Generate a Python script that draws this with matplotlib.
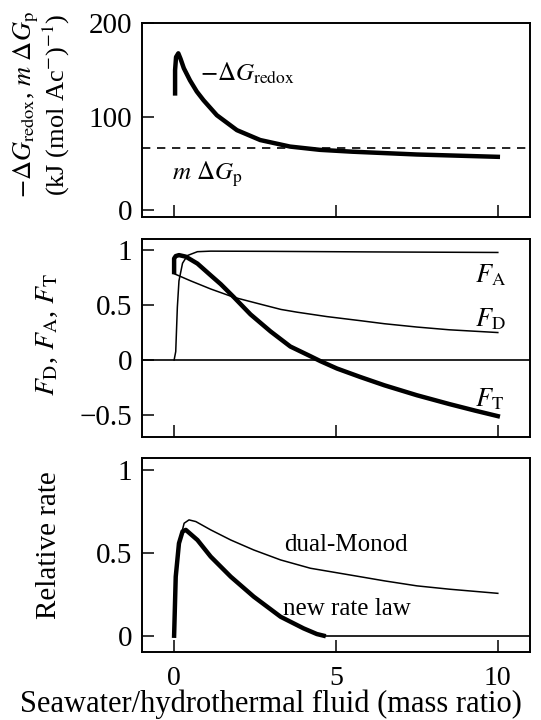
import matplotlib
matplotlib.use("Agg")
import matplotlib.pyplot as plt

plt.rcParams["font.family"] = ["Liberation Serif", "DejaVu Serif"]
plt.rcParams["mathtext.fontset"] = "stix"
plt.rcParams["font.size"] = 21

# --- data ---
# panel 1: -dG_redox (kJ per mol acetate) and the m dG_p level
redox_x = [0.03, 0.03, 0.06, 0.13, 0.2, 0.3, 0.49, 0.7, 0.91, 1.32, 1.94, 2.66, 3.58, 4.5, 5.5, 6.5, 7.5, 8.5, 10]
redox_y = [125, 150, 164, 168, 162, 152, 139, 127, 117.6, 101.6, 85.6, 75, 68, 64.5, 62.5, 61, 59.5, 58.5, 57]
m_dGp = 66

# panel 2: F_A, F_D, F_T
fa_x = [0, 0.05, 0.1, 0.15, 0.26, 0.41, 0.72, 1.13, 3, 6, 10]
fa_y = [0, 0.077, 0.48, 0.72, 0.88, 0.95, 0.985, 0.99, 0.988, 0.983, 0.978]
fd_x = [0, 0.51, 1.13, 1.85, 2.77, 3.3, 3.8, 4.72, 5.75, 6.5, 7.5, 8.5, 10]
fd_y = [0.785, 0.72, 0.646, 0.57, 0.5, 0.46, 0.435, 0.395, 0.358, 0.33, 0.3, 0.275, 0.25]
ft_x = [0, 0, 0.05, 0.15, 0.36, 0.72, 1.13, 1.44, 1.85, 2.36, 2.98, 3.59, 4.21, 4.52, 5.03, 5.75, 6.5, 7.5, 8.5, 9.3, 10]
ft_y = [0.8, 0.923, 0.945, 0.954, 0.94, 0.877, 0.77, 0.69, 0.57, 0.415, 0.26, 0.123, 0.035, -0.01, -0.077, -0.154, -0.23, -0.32, -0.4, -0.46, -0.51]

# panel 3: relative rates
monod_x = [0, 0.05, 0.15, 0.31, 0.46, 0.67, 1.13, 1.75, 2.46, 3.29, 4.21, 5.75, 6.5, 7.5, 8.5, 10]
monod_y = [0, 0.355, 0.556, 0.677, 0.697, 0.687, 0.637, 0.576, 0.516, 0.456, 0.406, 0.355, 0.33, 0.30, 0.28, 0.255]
newlaw_x = [0, 0.05, 0.15, 0.26, 0.36, 0.72, 1.13, 1.75, 2.46, 3.29, 4.0, 4.41, 4.62]
newlaw_y = [0, 0.355, 0.556, 0.627, 0.637, 0.576, 0.476, 0.355, 0.235, 0.114, 0.044, 0.01, 0]

thick = 3.2
thin = 1.1

fig = plt.figure(figsize=(5.41, 7.2), dpi=100)
left, width = 0.262, 0.718
ax1 = fig.add_axes([left, 0.698, width, 0.2694])
ax2 = fig.add_axes([left, 0.393, width, 0.275])
ax3 = fig.add_axes([left, 0.094, width, 0.270])

for ax in (ax1, ax2, ax3):
    ax.set_xlim(-1, 11)
    ax.set_xticks([0, 5, 10])
    ax.tick_params(direction="in", length=8.5, width=1.1, pad=7, labelsize=21)
    ax.tick_params(axis="x", pad=10, labelsize=20)
    for s in ax.spines.values():
        s.set_linewidth(1.4)

# top panel
ax1.plot(redox_x, redox_y, color="black", lw=thick)
ax1.axhline(m_dGp, color="black", lw=1.2, ls=(0, (5, 4)))
ax1.set_ylim(-8, 200)
ax1.set_yticks([0, 100, 200])
ax1.set_xticklabels([])
ax1.text(0.8, 146, r"$-\Delta G_{\rm redox}$", va="center", fontsize=18)
ax1.text(-0.05, 38, r"$m\ \Delta G_{\rm p}$", va="center", fontsize=18)
ax1.set_ylabel("$-\\Delta G_{\\rm redox}$, $m\\ \\Delta G_{\\rm p}$\n(kJ (mol Ac$^{-}$)$^{-1}$)",
               fontsize=19, linespacing=1.0)
ax1.yaxis.set_label_coords(-0.18, 0.58)

# middle panel
ax2.axhline(0, color="black", lw=1.2)
ax2.plot(fa_x, fa_y, color="black", lw=thin)
ax2.plot(fd_x, fd_y, color="black", lw=thin)
ax2.plot(ft_x, ft_y, color="black", lw=thick)
ax2.set_ylim(-0.7, 1.1)
ax2.set_yticks([-0.5, 0, 0.5, 1])
ax2.set_yticklabels(["\u22120.5", "0", "0.5", "1"])
ax2.set_xticklabels([])
ax2.text(9.3, 0.77, r"$F_{\rm A}$", va="center", fontsize=19)
ax2.text(9.3, 0.37, r"$F_{\rm D}$", va="center", fontsize=19)
ax2.text(9.3, -0.36, r"$F_{\rm T}$", va="center", fontsize=19)
ax2.set_ylabel(r"$F_{\rm D}$, $F_{\rm A}$, $F_{\rm T}$", fontsize=20)
ax2.yaxis.set_label_coords(-0.21, 0.515)

# bottom panel
ax3.plot(monod_x, monod_y, color="black", lw=thin)
ax3.plot(newlaw_x, newlaw_y, color="black", lw=thick)
ax3.plot([newlaw_x[-1], 11], [0, 0], color="black", lw=1.2)
ax3.set_ylim(-0.1, 1.07)
ax3.set_yticks([0, 0.5, 1])
ax3.set_yticklabels(["0", "0.5", "1"])
ax3.text(3.4, 0.545, "dual-Monod", va="center", fontsize=18)
ax3.text(3.37, 0.16, "new rate law", va="center", fontsize=18)
ax3.set_ylabel("Relative rate", fontsize=21)
ax3.yaxis.set_label_coords(-0.205, 0.55)

fig.text(0.5, 0.002, "Seawater/hydrothermal fluid (mass ratio)", ha="center", va="bottom",
         fontsize=22)

fig.savefig("out.png", dpi=100)
